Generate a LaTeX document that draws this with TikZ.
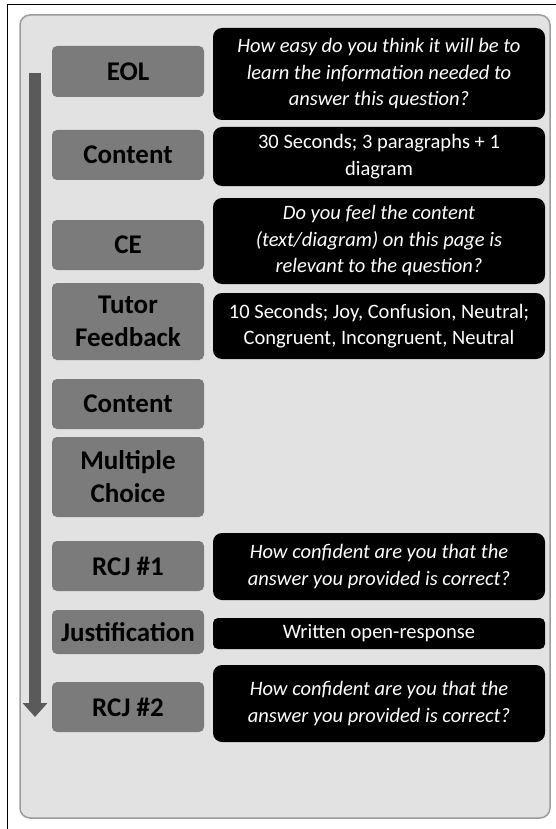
\documentclass[tikz,border=0pt]{standalone}
\usepackage{fontspec}
\setmainfont{Carlito}
\usepackage{tikz}
\usetikzlibrary{arrows.meta}
\definecolor{panelgray}{HTML}{E2E2E2}
\definecolor{rimgray}{HTML}{9C9C9C}
\definecolor{stagegray}{HTML}{7B7B7B}
\definecolor{arrowgray}{HTML}{5A5A5A}

\begin{document}
\begin{tikzpicture}[x=1pt,y=-1pt,
  stage/.style={fill=stagegray,rounded corners=5pt,minimum width=152pt,inner sep=0pt,
    align=center,font=\fontsize{27}{33}\selectfont\bfseries},
  info/.style={fill=black,text=white,rounded corners=9pt,minimum width=332pt,inner sep=0pt,
    align=center,font=\fontsize{20.5}{26.5}\selectfont}]
\useasboundingbox (0,0) rectangle (556,829);
\draw[black,line width=1pt] (556,5) -- (7,5) -- (7,829);
\draw[fill=panelgray,draw=rimgray,line width=1.5pt,rounded corners=10pt] (20,15) rectangle (550,818);
% time line
\coordinate (arrowtop) at (35,73);
\coordinate (arrowtip) at (35,717);
\draw[arrowgray,line width=12pt,-{Triangle[width=24pt,length=14pt]}] (arrowtop) -- (arrowtip);
% stages
\node[stage,minimum height=51pt] (eol) at (128,71.5) {EOL};
\node[stage,minimum height=50pt] (content) at (128,155) {Content};
\node[stage,minimum height=50pt] (ce) at (128,245) {CE};
\node[stage,minimum height=77pt] (tutor) at (128,321.5) {Tutor\\Feedback};
\node[stage,minimum height=50pt] (contentb) at (128,404) {Content};
\node[stage,minimum height=80pt] (mc) at (128,477) {Multiple\\Choice};
\node[stage,minimum height=50pt] (rcja) at (128,566) {RCJ \#1};
\node[stage,minimum height=44pt] (just) at (128,632) {Justification};
\node[stage,minimum height=50pt] (rcjb) at (128,707) {RCJ \#2};
% prompts
\node[info,minimum height=92pt] (eolq) at (379,74) {\itshape How easy do you think it will be to\\\itshape learn the information needed to\\\itshape answer this question?};
\node[info,minimum height=59pt] (contentq) at (379,156.5) {30 Seconds; 3 paragraphs + 1\\diagram};
\node[info,minimum height=86pt] (ceq) at (379,241) {\itshape Do you feel the content\\\itshape (text/diagram) on this page is\\\itshape relevant to the question?};
\node[info,minimum height=66pt] (tutorq) at (379,326) {10 Seconds; Joy, Confusion, Neutral;\\Congruent, Incongruent, Neutral};
\node[info,minimum height=67pt] (rcjaq) at (379,566.5) {\itshape How confident are you that the\\\itshape answer you provided is correct?};
\node[info,minimum height=31pt,rounded corners=5pt] (justq) at (379,633.5) {Written open-response};
\node[info,minimum height=77pt] (rcjbq) at (379,703.5) {\itshape How confident are you that the\\\itshape answer you provided is correct?};
\end{tikzpicture}
\end{document}
